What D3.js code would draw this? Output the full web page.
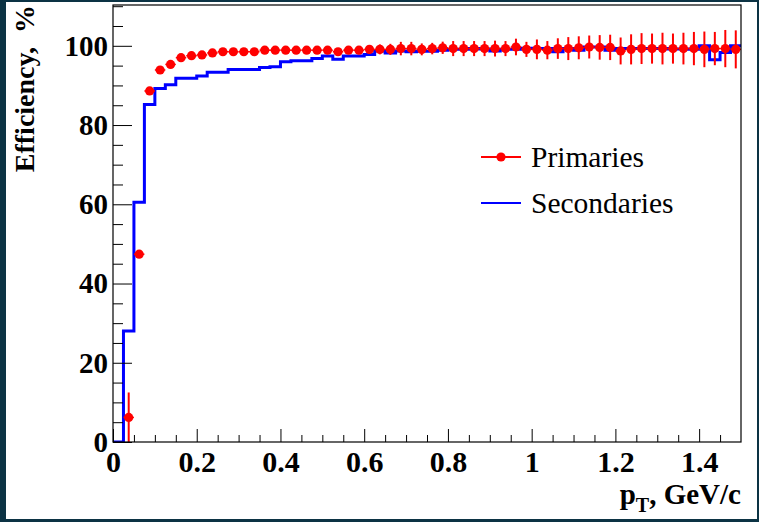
<!DOCTYPE html>
<html><head><meta charset="utf-8">
<script src="https://cdn.jsdelivr.net/npm/d3@7/dist/d3.min.js"></script>
<style>html,body{margin:0;padding:0;background:#0c3344;}svg{display:block}</style>
</head><body>
<svg id="c" width="759" height="522"></svg>
<script>
// ---- data ----
const binWidth = 0.025;
const binLow = [0,0.025,0.05,0.075,0.1,0.125,0.15,0.175,0.2,0.225,0.25,0.275,0.3,0.325,0.35,0.375,
  0.4,0.425,0.45,0.475,0.5,0.525,0.55,0.575,0.6,0.625,0.65,0.675,0.7,0.725,0.75,0.775,
  0.8,0.825,0.85,0.875,0.9,0.925,0.95,0.975,1.0,1.025,1.05,1.075,1.1,1.125,1.15,1.175,
  1.2,1.225,1.25,1.275,1.3,1.325,1.35,1.375,1.4,1.425,1.45,1.475];
const primaries = [null,6.2,47.4,88.6,93.9,95.3,97.0,97.5,97.7,98.2,98.5,98.5,98.5,98.5,98.9,98.9,
  98.9,98.9,98.9,98.9,98.9,98.5,98.9,98.9,99.1,99.1,99.1,99.3,99.3,99.1,99.3,99.5,
  99.3,99.3,99.3,99.3,99.3,99.3,99.7,99.1,99.1,98.9,99.3,99.3,99.5,99.7,99.6,99.6,
  98.7,99.1,99.3,99.3,99.3,99.3,99.3,99.3,99.1,99.3,99.3,99.1];
const primaryErr = [0,6.3,0.6,0.4,0.3,0.3,0.3,0.3,0.3,0.3,0.3,0.3,0.4,0.4,0.4,0.5,
  0.5,0.6,0.6,0.7,0.7,0.8,0.9,1.0,1.1,1.25,1.4,1.7,1.7,1.5,1.45,1.55,
  1.9,1.9,1.9,1.9,2.0,1.9,2.1,1.9,2.5,2.3,2.6,2.9,2.9,2.9,3.1,3.2,
  3.4,3.8,3.9,3.8,4.0,3.8,4.0,4.2,4.5,4.2,4.7,4.8];
const secondaries = [0,28.0,60.5,85.2,89.2,90.2,91.8,91.8,92.4,93.3,93.3,94.0,94.0,94.0,94.5,94.7,
  96.0,96.2,96.2,96.8,97.4,96.6,97.4,97.4,97.8,98.7,98.2,98.7,98.5,98.6,98.6,98.9,
  99.1,99.1,99.3,99.2,98.7,99.1,99.1,99.4,99.3,99.3,98.5,99.3,98.9,99.7,99.7,98.9,
  99.3,99.3,99.3,99.3,99.3,99.2,99.2,99.1,100.0,96.5,98.3,100.0];
const xTicks = [0,0.2,0.4,0.6,0.8,1,1.2,1.4];
const xMinor = [0.05,0.1,0.15,0.25,0.3,0.35,0.45,0.5,0.55,0.65,0.7,0.75,0.85,0.9,0.95,1.05,1.1,1.15,1.25,1.3,1.35,1.45];
const yTicks = [0,20,40,60,80,100];
const yMinor = [5,10,15,25,30,35,45,50,55,65,70,75,85,90,95,105,110];
const legendLabels = ["Primaries","Secondaries"];

// ---- layout ----
const svg = d3.select("#c");
svg.append("rect").attr("x",6).attr("y",2).attr("width",751).attr("height",517).attr("fill","#fff");
const L=113, R=741, T=5, B=442;
const x = d3.scaleLinear().domain([0,1.5]).range([L,R]);
const y = d3.scaleLinear().domain([0,110.3]).range([B,T]);
const FONT = "'Liberation Serif','Times New Roman',serif";

svg.append("defs").append("clipPath").attr("id","clip")
  .append("rect").attr("x",L).attr("y",T).attr("width",R-L).attr("height",B-T);

// secondaries histogram (step)
const histPts = binLow.map((b,i)=>[b,secondaries[i]]);
histPts.push([binLow[binLow.length-1]+binWidth, secondaries[secondaries.length-1]]);
svg.append("path").attr("clip-path","url(#clip)")
  .attr("d", d3.line().x(d=>x(d[0])).y(d=>y(d[1])).curve(d3.curveStepAfter)(histPts))
  .attr("fill","none").attr("stroke","#0000ff").attr("stroke-width",3);

// primaries points with error bars
const pts = binLow.map((b,i)=>({c:b+binWidth/2, lo:b, hi:b+binWidth, v:primaries[i], e:primaryErr[i]})).filter(d=>d.v!==null);
const pg = svg.append("g").attr("clip-path","url(#clip)");
pg.selectAll("line.ey").data(pts).join("line").attr("class","ey")
  .attr("x1",d=>x(d.c)).attr("x2",d=>x(d.c)).attr("y1",d=>y(Math.max(0,d.v-d.e))).attr("y2",d=>y(d.v+d.e))
  .attr("stroke","#ff0000").attr("stroke-width",2);
pg.selectAll("line.ex").data(pts).join("line").attr("class","ex")
  .attr("x1",d=>x(d.lo)).attr("x2",d=>x(d.hi)).attr("y1",d=>y(d.v)).attr("y2",d=>y(d.v))
  .attr("stroke","#ff0000").attr("stroke-width",1.5);
pg.selectAll("circle").data(pts).join("circle")
  .attr("cx",d=>x(d.c)).attr("cy",d=>y(d.v)).attr("r",4.6).attr("fill","#ff0000");

// axes
function styleAxis(g){ g.select(".domain").remove(); g.selectAll("line").attr("stroke","#000"); }
const yAx = svg.append("g").attr("transform",`translate(${L},0)`)
  .call(d3.axisLeft(y).tickValues(yTicks).tickSizeInner(-19).tickSizeOuter(0).tickPadding(5).tickFormat(d3.format("d")));
styleAxis(yAx);
yAx.selectAll("text").attr("font-family",FONT).attr("font-weight","bold").attr("font-size",29).attr("fill","#000");
const yAxM = svg.append("g").attr("transform",`translate(${L},0)`)
  .call(d3.axisLeft(y).tickValues(yMinor).tickSizeInner(-10).tickSizeOuter(0).tickFormat(""));
styleAxis(yAxM);

const xAx = svg.append("g").attr("transform",`translate(0,${B})`)
  .call(d3.axisBottom(x).tickValues(xTicks).tickSizeInner(-13).tickSizeOuter(0).tickPadding(9).tickFormat(d=>d3.format("")(d)));
styleAxis(xAx);
xAx.selectAll("text").attr("font-family",FONT).attr("font-weight","bold").attr("font-size",30).attr("fill","#000");
const xAxM = svg.append("g").attr("transform",`translate(0,${B})`)
  .call(d3.axisBottom(x).tickValues(xMinor).tickSizeInner(-7).tickSizeOuter(0).tickFormat(""));
styleAxis(xAxM);

// frame
svg.append("rect").attr("x",L).attr("y",T).attr("width",R-L).attr("height",B-T)
  .attr("fill","none").attr("stroke","#000").attr("stroke-width",1.2);

// titles
svg.append("text").attr("transform",`translate(34,5) rotate(-90)`).attr("text-anchor","end")
  .attr("font-family",FONT).attr("font-weight","bold").attr("font-size",28).attr("fill","#000")
  .attr("xml:space","preserve").text("Efficiency,  %");
const xt = svg.append("text").attr("x",R).attr("y",504).attr("text-anchor","end")
  .attr("font-family",FONT).attr("font-weight","bold").attr("font-size",29).attr("fill","#000");
xt.append("tspan").text("p");
xt.append("tspan").attr("font-size",20).attr("dy",8).text("T");
xt.append("tspan").attr("dy",-8).text(", GeV/c");

// legend
const legY = [157,203];
const lg = svg.append("g");
lg.append("line").attr("x1",481).attr("x2",521).attr("y1",legY[0]).attr("y2",legY[0]).attr("stroke","#ff0000").attr("stroke-width",2);
lg.append("circle").attr("cx",501).attr("cy",legY[0]).attr("r",4.6).attr("fill","#ff0000");
lg.append("line").attr("x1",481).attr("x2",521).attr("y1",legY[1]).attr("y2",legY[1]).attr("stroke","#0000ff").attr("stroke-width",2);
lg.selectAll("text").data(legendLabels).join("text")
  .attr("x",531).attr("y",(d,i)=>legY[i]+10).attr("font-family",FONT).attr("font-size",29.5).attr("fill","#000").text(d=>d);
</script>
</body></html>
